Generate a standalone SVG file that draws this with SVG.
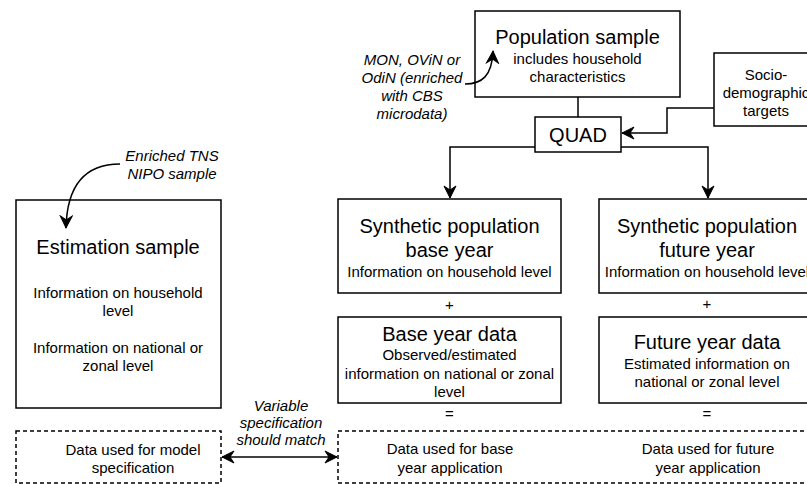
<svg xmlns="http://www.w3.org/2000/svg" width="807" height="484" viewBox="0 0 807 484">
  <defs>
    <marker id="arrow" markerUnits="userSpaceOnUse" markerWidth="16" markerHeight="16" refX="13" refY="7" orient="auto-start-reverse" viewBox="0 0 16 16">
      <path d="M1,1 L13,7 L1,13 L5,7 z" fill="#000" stroke="#000" stroke-width="1" stroke-linejoin="miter"/>
    </marker>
    <style>
      .box { fill: #fff; stroke: #000; stroke-width: 1.5; }
      .dash { fill: none; stroke: #000; stroke-width: 1.5; stroke-dasharray: 4 3; }
      .edge { fill: none; stroke: #000; stroke-width: 1.5; }
      text { font-family: "Liberation Sans", Arial, Helvetica, sans-serif; fill: #000; text-anchor: middle; }
      .big { font-size: 20px; }
      .small { font-size: 15px; }
      .note { font-size: 15px; font-style: italic; }
    </style>
  </defs>

  <!-- population sample -->
  <g id="population-sample">
    <rect class="box" x="475" y="11" width="205" height="86"/>
    <text class="big" x="577.5" y="44">Population sample</text>
    <text class="small" x="577.5" y="64">includes household</text>
    <text class="small" x="577.5" y="82">characteristics</text>
  </g>

  <g id="population-source">
    <text class="note" x="412" y="65">MON, OViN or</text>
    <text class="note" x="412" y="83">OdiN (enriched</text>
    <text class="note" x="412" y="101">with CBS</text>
    <text class="note" x="412" y="119">microdata)</text>
  </g>

  <!-- socio-demographic targets -->
  <g id="socio-targets">
    <rect class="box" x="714" y="53" width="104" height="73"/>
    <text class="small" x="766" y="80">Socio-</text>
    <text class="small" x="766" y="98">demographic</text>
    <text class="small" x="766" y="116">targets</text>
  </g>

  <!-- QUAD -->
  <g id="quad">
    <rect class="box" x="535" y="117" width="86" height="35"/>
    <text class="big" x="578" y="142">QUAD</text>
  </g>

  <!-- estimation sample -->
  <g id="estimation-source">
    <text class="note" x="172" y="161">Enriched TNS</text>
    <text class="note" x="172" y="179">NIPO sample</text>
  </g>
  <g id="estimation-sample">
    <rect class="box" x="16" y="200" width="205" height="208"/>
    <text class="big" x="118" y="254">Estimation sample</text>
    <text class="small" x="118" y="298">Information on household</text>
    <text class="small" x="118" y="316">level</text>
    <text class="small" x="118" y="353">Information on national or</text>
    <text class="small" x="118" y="371">zonal level</text>
  </g>

  <g id="model-specification">
    <rect class="dash" x="16" y="431" width="205" height="52"/>
    <text class="small" x="133" y="455">Data used for model</text>
    <text class="small" x="133" y="473">specification</text>
  </g>

  <g id="variable-note">
    <text class="note" x="281" y="411">Variable</text>
    <text class="note" x="281" y="428">specification</text>
    <text class="note" x="281" y="445">should match</text>
  </g>

  <!-- synthetic populations -->
  <g id="synthetic-base">
    <rect class="box" x="338" y="199" width="223" height="94"/>
    <text class="big" x="449.5" y="233">Synthetic population</text>
    <text class="big" x="449.5" y="257">base year</text>
    <text class="small" x="449.5" y="277">Information on household level</text>
  </g>
  <g id="synthetic-future">
    <rect class="box" x="599" y="199" width="216" height="94"/>
    <text class="big" x="707" y="233">Synthetic population</text>
    <text class="big" x="707" y="257">future year</text>
    <text class="small" x="707" y="277">Information on household level</text>
  </g>

  <g id="plus-signs">
    <text class="small" x="449.5" y="310">+</text>
    <text class="small" x="707" y="309">+</text>
  </g>

  <!-- year data -->
  <g id="base-year-data">
    <rect class="box" x="338" y="317" width="223" height="86"/>
    <text class="big" x="449.5" y="341">Base year data</text>
    <text class="small" x="449.5" y="360">Observed/estimated</text>
    <text class="small" x="449.5" y="379">information on national or zonal</text>
    <text class="small" x="449.5" y="397">level</text>
  </g>
  <g id="future-year-data">
    <rect class="box" x="599" y="317" width="216" height="86"/>
    <text class="big" x="707" y="349">Future year data</text>
    <text class="small" x="707" y="369">Estimated information on</text>
    <text class="small" x="707" y="387">national or zonal level</text>
  </g>

  <g id="equals-signs">
    <text class="small" x="449.5" y="419">=</text>
    <text class="small" x="707" y="419">=</text>
  </g>

  <!-- application data -->
  <g id="application-data">
    <rect class="dash" x="338" y="431" width="480" height="52"/>
    <text class="small" x="450" y="454">Data used for base</text>
    <text class="small" x="450" y="473">year application</text>
    <text class="small" x="708" y="454">Data used for future</text>
    <text class="small" x="708" y="473">year application</text>
  </g>

  <!-- connectors, drawn last so arrowheads sit on top of the boxes -->
  <g id="connectors">
    <path class="edge" d="M578 97 V117"/>
    <path class="edge" d="M714 108 H667 V133 H622" marker-end="url(#arrow)"/>
    <path class="edge" d="M535 147 H450 V198" marker-end="url(#arrow)"/>
    <path class="edge" d="M621 147 H708 V198" marker-end="url(#arrow)"/>
    <path class="edge" d="M465 84 C482 84 492 76 493 51" marker-end="url(#arrow)"/>
    <path class="edge" d="M120 164 C86 164 67 184 66 228" marker-end="url(#arrow)"/>
    <path class="edge" d="M222 457 H337" marker-start="url(#arrow)" marker-end="url(#arrow)"/>
  </g>
</svg>
